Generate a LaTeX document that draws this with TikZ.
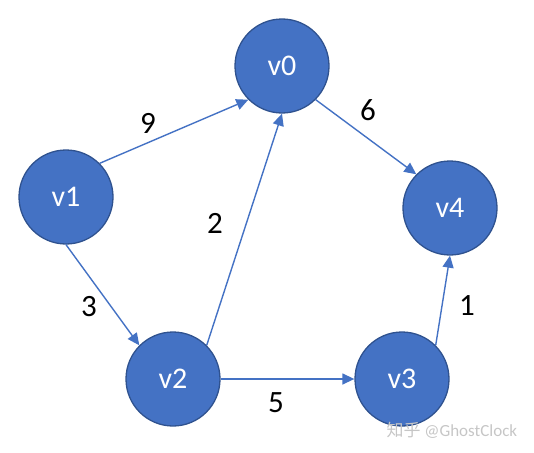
\documentclass[tikz,border=0pt]{standalone}
\usepackage{fontspec}
\setmainfont{Carlito}
\newfontfamily\cjkfont{Noto Sans CJK SC}
\usetikzlibrary{arrows.meta}
\definecolor{nodefill}{HTML}{4472C4}
\definecolor{nodeline}{HTML}{2F528F}
\tikzset{
  vertex/.style={circle, fill=nodefill, draw=nodeline, line width=1.3pt,
    minimum size=94pt, inner sep=0pt, text=white, font=\fontsize{30}{33}\selectfont},
  edge/.style={draw=nodefill, line width=1.4pt, -{Triangle[length=12pt,width=11pt]}},
  wlabel/.style={font=\fontsize{31}{34}\selectfont, text=black}
}
\begin{document}
\begin{tikzpicture}[x=1pt,y=-1pt]
\useasboundingbox (0,0) rectangle (534,452);
\node[vertex] (v0) at (282,66) {v0};
\node[vertex] (v1) at (66,197) {v1};
\node[vertex] (v2) at (173,379) {v2};
\node[vertex] (v3) at (402,379) {v3};
\node[vertex] (v4) at (450,208) {v4};
\draw[edge] (v1.45) -- (v0.225);
\draw[edge] (v1.270) -- (v2.135);
\draw[edge] (v2.45) -- (v0.270);
\draw[edge] (v0.315) -- (v4.135);
\draw[edge] (v2.0) -- (v3.180);
\draw[edge] (v3.45) -- (v4.270);
\node[wlabel] (l9) at (148,123) {9};
\node[wlabel] (l6) at (368,110) {6};
\node[wlabel] (l2) at (215,223) {2};
\node[wlabel] (l3) at (89,307) {3};
\node[wlabel] (l1) at (467,306) {1};
\node[wlabel] (l5) at (276,403) {5};
\node[text=gray!45, font=\fontsize{17}{19}\selectfont, anchor=west] (wm) at (383,430) {{\cjkfont 知乎} @GhostClock};
\end{tikzpicture}
\end{document}
